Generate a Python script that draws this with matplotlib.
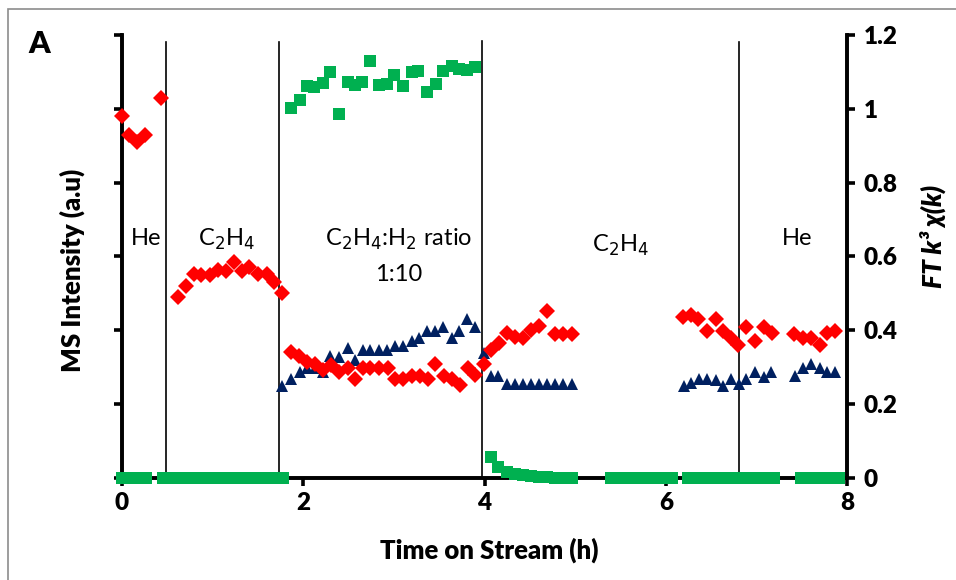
import matplotlib
matplotlib.use("Agg")
from matplotlib import pyplot as plt
from matplotlib.patches import Rectangle

plt.rcParams['font.family'] = ['Lato', 'DejaVu Sans']

# red diamonds
red_x = [0.0, 0.08, 0.17, 0.25, 0.43,
         0.62, 0.71, 0.79, 0.87, 0.97, 1.06, 1.15, 1.24, 1.32, 1.40, 1.50, 1.60, 1.68, 1.77,
         1.86, 1.95, 2.04, 2.13, 2.22, 2.31, 2.39, 2.49, 2.57, 2.66, 2.74, 2.84, 2.93,
         3.01, 3.10, 3.20, 3.29, 3.38, 3.45, 3.55, 3.64, 3.73, 3.82, 3.90,
         3.99, 4.07, 4.16, 4.25, 4.34, 4.42, 4.51, 4.60, 4.69, 4.78, 4.87, 4.96,
         6.19, 6.28, 6.36, 6.45, 6.55, 6.63, 6.72, 6.80, 6.89, 6.98, 7.08, 7.17,
         7.42, 7.51, 7.60, 7.70, 7.78, 7.87]
red_y = [0.98, 0.93, 0.91, 0.93, 1.03,
         0.49, 0.52, 0.553, 0.55, 0.55, 0.564, 0.562, 0.584, 0.562, 0.571, 0.553, 0.553, 0.532, 0.50,
         0.34, 0.331, 0.315, 0.31, 0.293, 0.306, 0.288, 0.297, 0.268, 0.297, 0.297, 0.297, 0.297,
         0.268, 0.268, 0.276, 0.276, 0.268, 0.31, 0.276, 0.267, 0.252, 0.297, 0.279,
         0.309, 0.347, 0.365, 0.394, 0.383, 0.379, 0.401, 0.412, 0.451, 0.39, 0.39, 0.39,
         0.435, 0.442, 0.43, 0.399, 0.43, 0.399, 0.379, 0.36, 0.41, 0.37, 0.408, 0.392,
         0.39, 0.379, 0.379, 0.36, 0.392, 0.399]

# blue triangles
blue_x = [1.77, 1.87, 1.96, 2.04, 2.13, 2.22, 2.30, 2.39, 2.49, 2.57, 2.66, 2.74, 2.84, 2.92,
          3.01, 3.10, 3.20, 3.28, 3.37, 3.45, 3.54, 3.64, 3.72, 3.81, 3.89,
          3.99, 4.07, 4.15, 4.25, 4.34, 4.42, 4.51, 4.60, 4.69, 4.78, 4.87, 4.96,
          6.20, 6.28, 6.37, 6.45, 6.55, 6.63, 6.72, 6.81, 6.89, 6.98, 7.08, 7.16,
          7.43, 7.51, 7.60, 7.70, 7.78, 7.87]
blue_y = [0.248, 0.267, 0.288, 0.297, 0.297, 0.286, 0.331, 0.327, 0.351, 0.32, 0.347, 0.347, 0.347, 0.347,
          0.358, 0.358, 0.37, 0.379, 0.397, 0.397, 0.41, 0.379, 0.397, 0.43, 0.41,
          0.338, 0.276, 0.276, 0.255, 0.255, 0.255, 0.255, 0.255, 0.255, 0.255, 0.255, 0.255,
          0.248, 0.257, 0.267, 0.267, 0.265, 0.248, 0.267, 0.255, 0.267, 0.288, 0.273, 0.288,
          0.276, 0.297, 0.309, 0.297, 0.288, 0.288]

# green squares
green_x = [0.0, 0.09, 0.18, 0.27,
           0.45, 0.54, 0.63, 0.72, 0.81, 0.90, 0.99, 1.08, 1.17, 1.26, 1.35, 1.44, 1.53, 1.62, 1.71, 1.78,
           1.87, 1.96, 2.04, 2.12, 2.22, 2.30, 2.39, 2.49, 2.57, 2.65, 2.74, 2.84, 2.92,
           3.00, 3.10, 3.20, 3.27, 3.37, 3.46, 3.54, 3.64, 3.72, 3.81, 3.89,
           4.07, 4.15, 4.25, 4.34, 4.42, 4.51, 4.60, 4.69, 4.78, 4.87, 4.96,
           5.40, 5.49, 5.58, 5.67, 5.76, 5.85, 5.94, 6.03, 6.07,
           6.25, 6.34, 6.43, 6.52, 6.61, 6.70, 6.79, 6.88, 6.97, 7.06, 7.15, 7.19,
           7.49, 7.58, 7.67, 7.76, 7.85, 7.91]
green_y = [0, 0, 0, 0,
           0, 0, 0, 0, 0, 0, 0, 0, 0, 0, 0, 0, 0, 0, 0, 0,
           1.002, 1.024, 1.062, 1.059, 1.07, 1.099, 0.986, 1.073, 1.064, 1.073, 1.13, 1.064, 1.068,
           1.092, 1.062, 1.1, 1.103, 1.046, 1.067, 1.103, 1.117, 1.108, 1.106, 1.113,
           0.058, 0.031, 0.017, 0.010, 0.007, 0.005, 0.003, 0.002, 0.001, 0.001, 0.0,
           0, 0, 0, 0, 0, 0, 0, 0, 0,
           0, 0, 0, 0, 0, 0, 0, 0, 0, 0, 0, 0,
           0, 0, 0, 0, 0, 0]

switch_times = [0.49, 1.73, 3.97, 6.81]
switch_tops = [1.18, 1.18, 1.185, 1.18]

fig = plt.figure(figsize=(9.56, 5.80), dpi=100)
fig.patches.append(Rectangle((8 / 956, -0.1), 1.2, 1 - 9 / 580 + 0.1, transform=fig.transFigure,
                             fill=False, edgecolor='#8c8c8c', linewidth=1.2))

ax = fig.add_axes([0.1276, 0.1759, 0.7584, 0.7638])
ax2 = ax.twinx()

for t, top in zip(switch_times, switch_tops):
    ax2.plot([t, t], [0, top], color='black', linewidth=1.2, zorder=1)

ax2.plot(green_x, green_y, 's', color='#00B050', markersize=8.5, markeredgewidth=0, zorder=3,
         clip_on=False)
ax2.plot(blue_x, blue_y, '^', color='#002060', markersize=8.5, markeredgewidth=0, zorder=4,
         clip_on=False)
ax2.plot(red_x, red_y, 'D', color='#FF0000', markersize=7.8, markeredgewidth=0, zorder=5,
         clip_on=False)

for a in (ax, ax2):
    a.set_xlim(0, 8)
    a.set_ylim(0, 1.2)
    a.set_yticks([0, 0.2, 0.4, 0.6, 0.8, 1.0, 1.2])
    for s in a.spines.values():
        s.set_linewidth(2.6)
    a.spines['top'].set_visible(False)
    a.patch.set_visible(False)

ax.set_xticks([0, 2, 4, 6, 8])
ax.set_xticklabels(['0', '2', '4', '6', '8'], fontsize=17.5, fontweight='heavy')
ax.tick_params(axis='x', length=6, width=2.6, pad=4)
ax.tick_params(axis='y', length=6, width=2.6, labelleft=False)
ax2.set_yticklabels(['0', '0.2', '0.4', '0.6', '0.8', '1', '1.2'], fontsize=17.5, fontweight='heavy')
ax2.tick_params(axis='y', length=6, width=2.6, pad=6)

fig.text(489 / 956, 1 - 550 / 580, 'Time on Stream (h)', fontsize=18.5, fontweight='heavy',
         ha='center', va='center')
fig.text(72 / 956, 1 - 270 / 580, 'MS Intensity (a.u)', fontsize=18.5, fontweight='heavy',
         rotation=90, ha='center', va='center')
fig.text(933 / 956, 1 - 236 / 580, 'FT k³ χ(k)', fontsize=19, fontweight='heavy', fontstyle='italic',
         rotation=90, ha='center', va='center')

ax2.text(0.27, 0.65, 'He', fontsize=17, ha='center', va='center')
ax2.text(1.15, 0.645, 'C$_2$H$_4$', fontsize=17, ha='center', va='center')
ax2.text(3.05, 0.645, 'C$_2$H$_4$:H$_2$ ratio', fontsize=17, ha='center', va='center')
ax2.text(3.05, 0.55, '1:10', fontsize=17, ha='center', va='center')
ax2.text(5.5, 0.63, 'C$_2$H$_4$', fontsize=17, ha='center', va='center')
ax2.text(7.45, 0.65, 'He', fontsize=17, ha='center', va='center')

fig.text(39 / 956, 1 - 44 / 580, 'A', fontsize=22, fontweight='heavy', ha='center', va='center')

fig.savefig('out.png', dpi=100)
